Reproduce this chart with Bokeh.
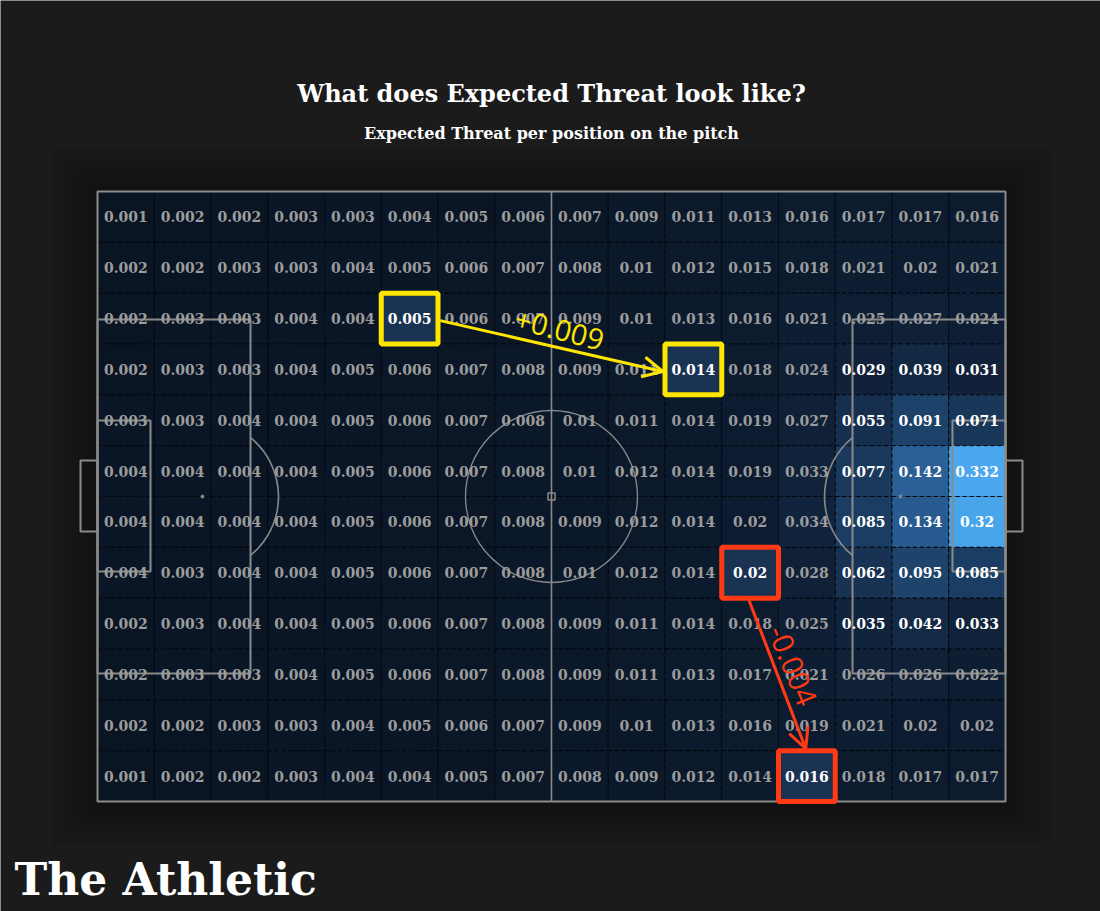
from bokeh.plotting import figure
from bokeh.models import ColumnDataSource, LinearColorMapper, Arrow, OpenHead, Range1d, Label
from bokeh.transform import transform
from bokeh.core.properties import value
from bokeh.embed import file_html
from bokeh.resources import INLINE
import math

# ---------------- data: Expected Threat per zone (rows top -> bottom, 16 columns) ----------------
row01 = [0.001, 0.002, 0.002, 0.003, 0.003, 0.004, 0.005, 0.006, 0.007, 0.009, 0.011, 0.013, 0.016, 0.017, 0.017, 0.016]
row02 = [0.002, 0.002, 0.003, 0.003, 0.004, 0.005, 0.006, 0.007, 0.008, 0.01, 0.012, 0.015, 0.018, 0.021, 0.02, 0.021]
row03 = [0.002, 0.003, 0.003, 0.004, 0.004, 0.005, 0.006, 0.007, 0.009, 0.01, 0.013, 0.016, 0.021, 0.025, 0.027, 0.024]
row04 = [0.002, 0.003, 0.003, 0.004, 0.005, 0.006, 0.007, 0.008, 0.009, 0.011, 0.014, 0.018, 0.024, 0.029, 0.039, 0.031]
row05 = [0.003, 0.003, 0.004, 0.004, 0.005, 0.006, 0.007, 0.008, 0.01, 0.011, 0.014, 0.019, 0.027, 0.055, 0.091, 0.071]
row06 = [0.004, 0.004, 0.004, 0.004, 0.005, 0.006, 0.007, 0.008, 0.01, 0.012, 0.014, 0.019, 0.033, 0.077, 0.142, 0.332]
row07 = [0.004, 0.004, 0.004, 0.004, 0.005, 0.006, 0.007, 0.008, 0.009, 0.012, 0.014, 0.02, 0.034, 0.085, 0.134, 0.32]
row08 = [0.004, 0.003, 0.004, 0.004, 0.005, 0.006, 0.007, 0.008, 0.01, 0.012, 0.014, 0.02, 0.028, 0.062, 0.095, 0.085]
row09 = [0.002, 0.003, 0.004, 0.004, 0.005, 0.006, 0.007, 0.008, 0.009, 0.011, 0.014, 0.018, 0.025, 0.035, 0.042, 0.033]
row10 = [0.002, 0.003, 0.003, 0.004, 0.005, 0.006, 0.007, 0.008, 0.009, 0.011, 0.013, 0.017, 0.021, 0.026, 0.026, 0.022]
row11 = [0.002, 0.002, 0.003, 0.003, 0.004, 0.005, 0.006, 0.007, 0.009, 0.01, 0.013, 0.016, 0.019, 0.021, 0.02, 0.02]
row12 = [0.001, 0.002, 0.002, 0.003, 0.004, 0.004, 0.005, 0.007, 0.008, 0.009, 0.012, 0.014, 0.016, 0.018, 0.017, 0.017]
rows = [row01, row02, row03, row04, row05, row06, row07, row08, row09, row10, row11, row12]

# highlighted moves: (column, row) of start and end zones
move_from = [(5, 2), (11, 7)]
move_to = [(10, 3), (12, 11)]
move_labels = ["+0.009", "-0.004"]
move_colors = ["#ffe600", "#ff3a14"]

title_text = "What does Expected Threat look like?"
subtitle_text = "Expected Threat per position on the pitch"
logo_text = "The Athletic"

# ---------------- geometry helpers (pixel -> pitch units) ----------------
NC, NR = 16, 12
SX = 908 / NC
SY = 610 / NR
def X(px):
    return (px - 97) / SX
def Y(py):
    return (801 - py) / SY

BG = "#1b1b1b"
SERIF = value("DejaVu Serif")

p = figure(width=1100, height=911,
           x_range=Range1d(X(0), X(1100)), y_range=Range1d(Y(911), Y(0)),
           output_backend="svg", toolbar_location=None,
           x_axis_location=None, y_axis_location=None,
           min_border=0, background_fill_color=BG, border_fill_color=BG,
           outline_line_color=None)
p.grid.visible = False

# soft dark glow round the pitch
for i in range(9):
    d = 5 * (i + 1)
    p.rect(x=NC / 2, y=NR / 2, width=NC + 2 * d / SX, height=NR + 2 * d / SY,
           fill_color="#000000", fill_alpha=0.04, line_color=None)

# ---------------- cells ----------------
hl = set(move_from + move_to)
xs, ys, vs, labs, tcs = [], [], [], [], []
for r, row in enumerate(rows):
    for c, v in enumerate(row):
        xs.append(c + 0.5)
        ys.append(NR - 1 - r + 0.5)
        vs.append(v)
        labs.append(f"{v:g}")
        if (c, r) in hl or (c >= 13 and v > 0.028):
            tcs.append("#ffffff")
        else:
            tcs.append("#9c9c9c")
src = ColumnDataSource(dict(x=xs, y=ys, v=vs, label=labs, tc=tcs))

def hex2rgb(h):
    return tuple(int(h[i:i + 2], 16) for i in (1, 3, 5))
stops = [(0.0, "#0a1524"), (0.06, "#0d1c31"), (0.12, "#132843"), (0.25, "#1b3d62"),
         (0.42, "#2a5f95"), (0.65, "#3983c2"), (1.0, "#4ba8ee")]
palette = []
for k in range(128):
    t = k / 127
    for j in range(len(stops) - 1):
        if stops[j][0] <= t <= stops[j + 1][0]:
            a, b = stops[j], stops[j + 1]
            f = (t - a[0]) / (b[0] - a[0])
            ca, cb = hex2rgb(a[1]), hex2rgb(b[1])
            palette.append("#%02x%02x%02x" % tuple(round(ca[q] + (cb[q] - ca[q]) * f) for q in range(3)))
            break
mapper = LinearColorMapper(palette=palette, low=0, high=max(max(r) for r in rows))

p.rect("x", "y", width=1, height=1, source=src, fill_color=transform("v", mapper),
       line_color="#02060c", line_dash="4 3", line_width=1)

# ---------------- pitch markings ----------------
LC = "#8a8a8a"
box_d, box_y0, box_y1 = X(250), Y(673), Y(319)
six_d, six_y0, six_y1 = X(150), Y(571), Y(420)
spot_d = X(202)
goal_d, goal_y0, goal_y1 = (97 - 80) / SX, Y(531), Y(460)
for side in (0, 1):
    def fx(d):
        return d if side == 0 else NC - d
    p.rect(x=(fx(0) + fx(box_d)) / 2, y=(box_y0 + box_y1) / 2, width=box_d, height=box_y1 - box_y0,
           fill_alpha=0, line_color=LC, line_width=2)
    p.rect(x=(fx(0) + fx(six_d)) / 2, y=(six_y0 + six_y1) / 2, width=six_d, height=six_y1 - six_y0,
           fill_alpha=0, line_color=LC, line_width=2)
    p.rect(x=(fx(0) + fx(-goal_d)) / 2, y=(goal_y0 + goal_y1) / 2, width=goal_d, height=goal_y1 - goal_y0,
           fill_alpha=0, line_color=LC, line_width=2)
    p.scatter(x=[fx(spot_d)], y=[NR / 2], size=3, color=LC)
    ang = math.acos(min(1.0, (box_d - spot_d) * SX / 76))
    if side == 0:
        p.arc(x=[fx(spot_d)], y=[NR / 2], radius=76, radius_units="screen",
              start_angle=-ang, end_angle=ang, line_color=LC, line_width=1.6)
    else:
        p.arc(x=[fx(spot_d)], y=[NR / 2], radius=76, radius_units="screen",
              start_angle=math.pi - ang, end_angle=math.pi + ang, line_color=LC, line_width=1.6)

# halfway line, centre circle, centre spot
p.segment(x0=[NC / 2], y0=[0], x1=[NC / 2], y1=[NR], line_color=LC, line_width=1.6)
p.arc(x=[NC / 2], y=[NR / 2], radius=86, radius_units="screen", start_angle=0, end_angle=2 * math.pi,
      line_color=LC, line_width=1.3)
p.scatter(x=[NC / 2], y=[NR / 2], marker="square", size=7, fill_alpha=0, line_color=LC, line_width=1.5)

# pitch outline
p.rect(x=NC / 2, y=NR / 2, width=NC, height=NR, fill_alpha=0, line_color="#8c8c8c", line_width=2)

# values
p.text("x", "y", text="label", source=src, text_font=SERIF, text_font_style="bold",
       text_font_size="14px", text_color="tc", text_align="center", text_baseline="middle")

# ---------------- highlighted moves ----------------
for (a, b, lab, col) in zip(move_from, move_to, move_labels, move_colors):
    for (c, r) in (a, b):
        cx, cy = c + 0.5, NR - 1 - r + 0.5
        p.rect(x=cx, y=cy, width=1, height=1, fill_color="#1b3353", line_color=col, line_width=5)
        p.text(x=[cx], y=[cy], text=[f"{rows[r][c]:g}"], text_font=SERIF, text_font_style="bold",
               text_font_size="14px", text_color="#ffffff", text_align="center", text_baseline="middle")

# yellow move: right edge -> left edge
(ac, ar), (bc, br) = move_from[0], move_to[0]
x0, y0 = ac + 0.5 + 0.54, NR - 1 - ar + 0.5 - 0.04
x1, y1 = bc + 0.5 - 0.54, NR - 1 - br + 0.5 - 0.04
p.add_layout(Arrow(end=OpenHead(size=20, line_color=move_colors[0], line_width=3),
                   x_start=x0, y_start=y0, x_end=x1, y_end=y1,
                   line_color=move_colors[0], line_width=3))
p.text(x=[X(559)], y=[Y(329)], text=[move_labels[0]], angle=-0.25,
       text_font=value("Open Sans"), text_font_size="29px", text_color=move_colors[0],
       text_align="center", text_baseline="middle")

# red move: bottom edge -> top edge
(ac, ar), (bc, br) = move_from[1], move_to[1]
x0, y0 = ac + 0.5 - 0.03, NR - 1 - ar + 0.5 - 0.51
x1, y1 = bc + 0.5 - 0.02, NR - 1 - br + 0.5 + 0.54
p.add_layout(Arrow(end=OpenHead(size=20, line_color=move_colors[1], line_width=3),
                   x_start=x0, y_start=y0, x_end=x1, y_end=y1,
                   line_color=move_colors[1], line_width=3))
p.text(x=[X(792)], y=[Y(665)], text=[move_labels[1]], angle=-1.18,
       text_font=value("Open Sans"), text_font_size="29px", text_color=move_colors[1],
       text_align="center", text_baseline="middle")

# ---------------- titles and logo ----------------
p.add_layout(Label(x=X(551), y=Y(93), text=title_text, text_align="center", text_baseline="middle",
                   text_font="DejaVu Serif", text_font_style="bold", text_font_size="24px",
                   text_color="#ffffff"))
p.add_layout(Label(x=X(551), y=Y(133), text=subtitle_text, text_align="center", text_baseline="middle",
                   text_font="DejaVu Serif", text_font_style="bold", text_font_size="16px",
                   text_color="#ffffff"))
p.add_layout(Label(x=X(14), y=Y(879), text=logo_text, text_align="left", text_baseline="middle",
                   text_font="DejaVu Serif", text_font_style="bold", text_font_size="44px",
                   text_color="#ffffff"))

open("out.html", "w").write(file_html(p, INLINE))
